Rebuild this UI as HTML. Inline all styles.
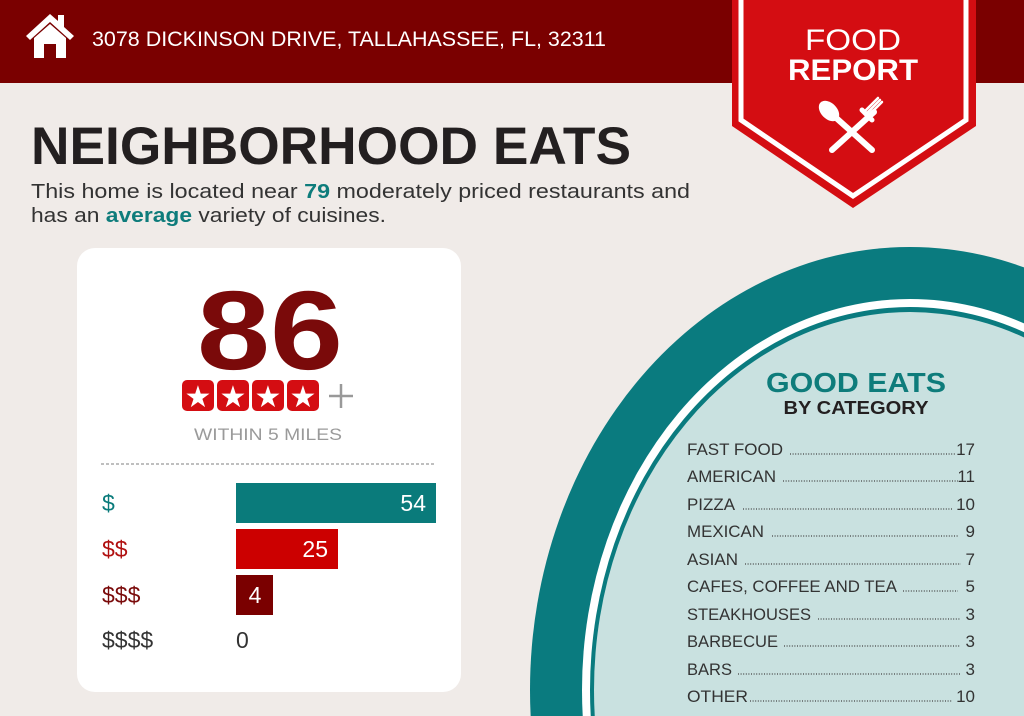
<!DOCTYPE html>
<html><head><meta charset="utf-8"><style>
html,body{margin:0;padding:0;background:#f0ebe8;width:1024px;height:716px;overflow:hidden;}
svg{display:block;font-family:"Liberation Sans",sans-serif;}
</style></head><body>
<svg width="1024" height="716" viewBox="0 0 1024 716" xmlns="http://www.w3.org/2000/svg">
<rect width="1024" height="716" fill="#f0ebe8"/>
<rect width="1024" height="83" fill="#7a0000"/>
<!-- house -->
<path d="M26 36 L50 14 L58 21 L58 15 L64 15 L64 27 L74 36 L70 40 L50 22 L30 40 Z" fill="#fff"/>
<path d="M34 38 L50 24 L66 38 L66 58 L56 58 L56 44 L44 44 L44 58 L34 58 Z" fill="#fff"/>
<text x="92" y="46" font-size="21" fill="#fff" textLength="514" lengthAdjust="spacingAndGlyphs">3078 DICKINSON DRIVE, TALLAHASSEE, FL, 32311</text>
<!-- banner -->
<path d="M732 0 H976 V126 L853 208 L732 126 Z" fill="#d40d12"/>
<path d="M741 0 V120 L853 196 L966 120 V0" fill="none" stroke="#fff" stroke-width="5"/>
<text x="853" y="50" font-size="30" fill="#fff" text-anchor="middle" textLength="96" lengthAdjust="spacingAndGlyphs">FOOD</text>
<text x="853" y="80" font-size="30" font-weight="bold" fill="#fff" text-anchor="middle" textLength="130" lengthAdjust="spacingAndGlyphs">REPORT</text>
<g stroke="#fff" stroke-linecap="round" fill="#fff">
<line x1="834" y1="116" x2="872" y2="150" stroke-width="6"/>
<line x1="874" y1="112" x2="832" y2="150" stroke-width="6"/>
<ellipse cx="829" cy="111" rx="8" ry="12" transform="rotate(-45 829 111)" stroke="none"/>
<path d="M864 112 L878 98 M868 116 L882 102 M866 114 L880 100" stroke-width="2.5"/>
<path d="M862 110 L872 120" stroke-width="5"/>
</g>
<!-- title -->
<text x="31" y="164" font-size="53" font-weight="bold" fill="#231f20" textLength="600" lengthAdjust="spacingAndGlyphs">NEIGHBORHOOD EATS</text>
<text x="31" y="198" font-size="20" fill="#333" textLength="659" lengthAdjust="spacingAndGlyphs">This home is located near <tspan font-weight="bold" fill="#0e7c7b">79</tspan> moderately priced restaurants and</text>
<text x="31" y="222" font-size="20" fill="#333" textLength="355" lengthAdjust="spacingAndGlyphs">has an <tspan font-weight="bold" fill="#0e7c7b">average</tspan> variety of cuisines.</text>
<!-- card -->
<rect x="77" y="248" width="384" height="444" rx="18" fill="#fff"/>
<text x="270" y="369" font-size="112" font-weight="bold" fill="#7a0a0a" text-anchor="middle" textLength="146" lengthAdjust="spacingAndGlyphs">86</text>
<g fill="#d40d12">
<rect x="182" y="380" width="32" height="31" rx="5"/><rect x="217" y="380" width="32" height="31" rx="5"/>
<rect x="252" y="380" width="32" height="31" rx="5"/><rect x="287" y="380" width="32" height="31" rx="5"/>
</g>
<g fill="#fff" font-size="30" text-anchor="middle">
<text x="198" y="407">★</text><text x="233" y="407">★</text><text x="268" y="407">★</text><text x="303" y="407">★</text>
</g>
<path d="M341 384 V408 M329 396 H353" stroke="#999" stroke-width="2.5"/>
<text x="268" y="440" font-size="17" fill="#9a9a9a" text-anchor="middle" textLength="148" lengthAdjust="spacingAndGlyphs">WITHIN 5 MILES</text>
<line x1="101" y1="464" x2="436" y2="464" stroke="#999" stroke-width="1.2" stroke-dasharray="3,2"/>
<rect x="236" y="483" width="200" height="40" fill="#0a7b7b"/>
<rect x="236" y="529" width="102" height="40" fill="#cc0000"/>
<rect x="236" y="575" width="37" height="40" fill="#7a0000"/>
<g font-size="23">
<text x="102" y="511" fill="#0a7b7b">$</text>
<text x="102" y="557" fill="#b01010">$$</text>
<text x="102" y="603" fill="#7a0a0a">$$$</text>
<text x="102" y="648" fill="#333">$$$$</text>
<text x="426" y="511" fill="#fff" text-anchor="end">54</text>
<text x="328" y="557" fill="#fff" text-anchor="end">25</text>
<text x="255" y="603" fill="#fff" text-anchor="middle">4</text>
<text x="236" y="648" fill="#333">0</text>
</g>
<!-- circle -->
<ellipse cx="910" cy="690" rx="380" ry="443" fill="#0a7b7f"/>
<ellipse cx="910" cy="690" rx="328" ry="391" fill="#fff"/>
<ellipse cx="910" cy="690" rx="320" ry="383" fill="#0a7b7f"/>
<ellipse cx="910" cy="690" rx="316" ry="378" fill="#c9e1e0"/>
<text x="856" y="392" font-size="28" font-weight="bold" fill="#0e7c7b" text-anchor="middle" textLength="180" lengthAdjust="spacingAndGlyphs">GOOD EATS</text>
<text x="856" y="414" font-size="18" font-weight="bold" fill="#231f20" text-anchor="middle" textLength="145" lengthAdjust="spacingAndGlyphs">BY CATEGORY</text>
<g font-size="17" fill="#333">
<text x="687" y="455" textLength="96" lengthAdjust="spacingAndGlyphs">FAST FOOD</text><text x="975" y="455" text-anchor="end">17</text>
<text x="687" y="482" textLength="89" lengthAdjust="spacingAndGlyphs">AMERICAN</text><text x="975" y="482" text-anchor="end">11</text>
<text x="687" y="510" textLength="48" lengthAdjust="spacingAndGlyphs">PIZZA</text><text x="975" y="510" text-anchor="end">10</text>
<text x="687" y="537" textLength="77" lengthAdjust="spacingAndGlyphs">MEXICAN</text><text x="975" y="537" text-anchor="end">9</text>
<text x="687" y="565" textLength="51" lengthAdjust="spacingAndGlyphs">ASIAN</text><text x="975" y="565" text-anchor="end">7</text>
<text x="687" y="592" textLength="210" lengthAdjust="spacingAndGlyphs">CAFES, COFFEE AND TEA</text><text x="975" y="592" text-anchor="end">5</text>
<text x="687" y="620" textLength="124" lengthAdjust="spacingAndGlyphs">STEAKHOUSES</text><text x="975" y="620" text-anchor="end">3</text>
<text x="687" y="647" textLength="91" lengthAdjust="spacingAndGlyphs">BARBECUE</text><text x="975" y="647" text-anchor="end">3</text>
<text x="687" y="675" textLength="45" lengthAdjust="spacingAndGlyphs">BARS</text><text x="975" y="675" text-anchor="end">3</text>
<text x="687" y="702" textLength="61" lengthAdjust="spacingAndGlyphs">OTHER</text><text x="975" y="702" text-anchor="end">10</text>
</g>
<g stroke="#444" stroke-width="1.2" stroke-dasharray="1,1.6">
<line x1="790" y1="454" x2="955" y2="454"/>
<line x1="783" y1="481" x2="958" y2="481"/>
<line x1="743" y1="509" x2="952" y2="509"/>
<line x1="772" y1="536" x2="958" y2="536"/>
<line x1="745" y1="564" x2="961" y2="564"/>
<line x1="903" y1="591" x2="958" y2="591"/>
<line x1="818" y1="619" x2="960" y2="619"/>
<line x1="784" y1="646" x2="960" y2="646"/>
<line x1="738" y1="674" x2="960" y2="674"/>
<line x1="750" y1="701" x2="952" y2="701"/>
</g>
</svg>
</body></html>
